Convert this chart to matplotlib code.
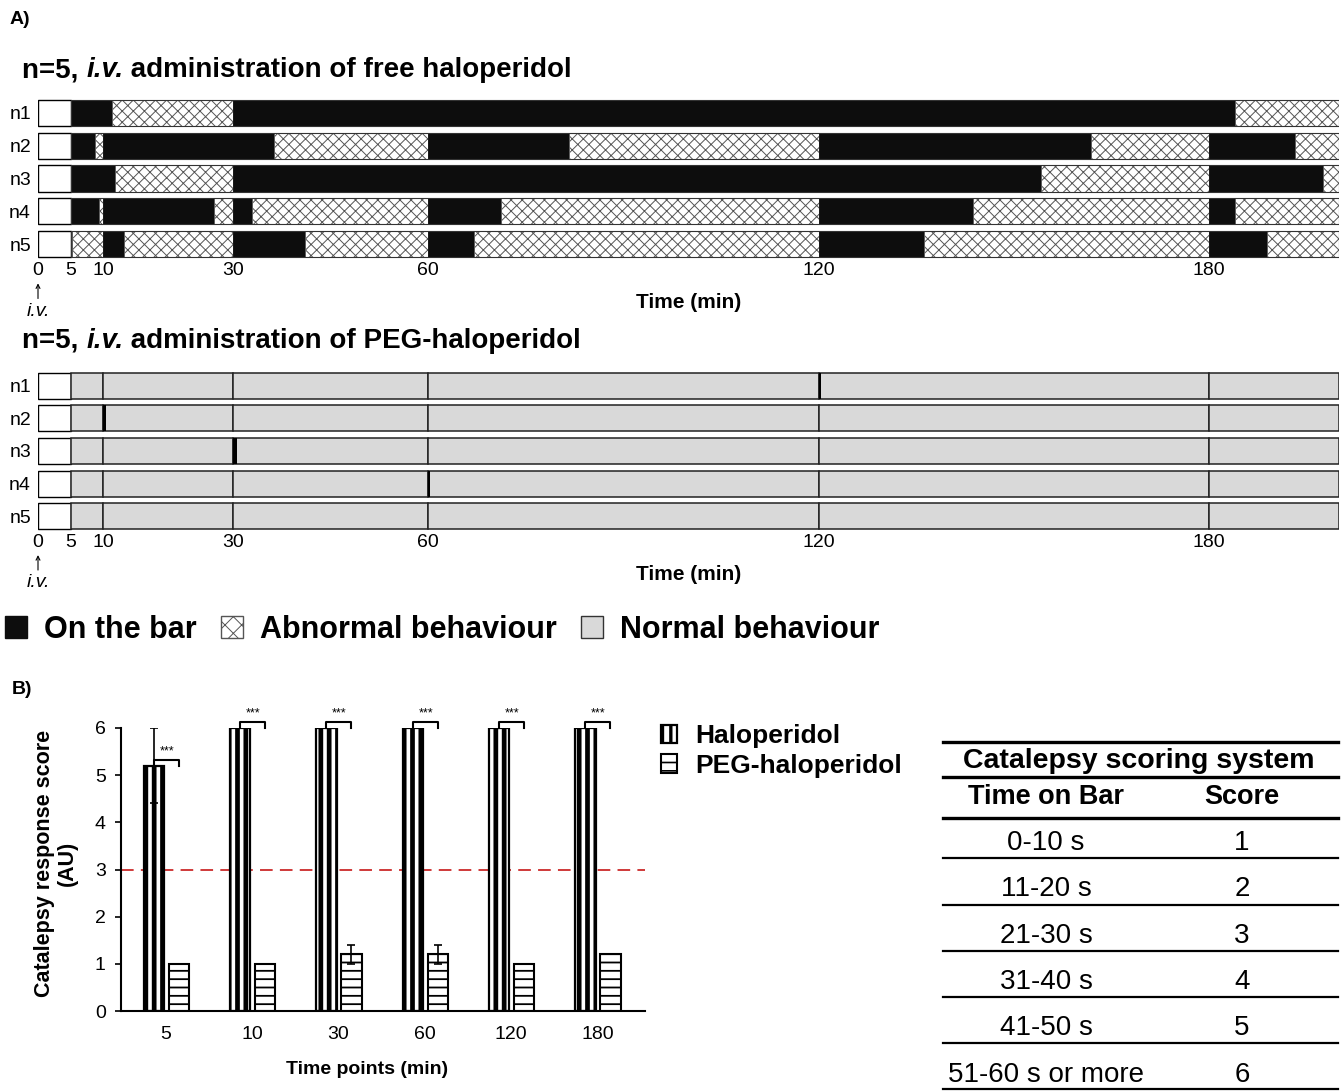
import numpy as np
import matplotlib
matplotlib.use('Agg')
import matplotlib.pyplot as plt
from matplotlib.patches import Patch
from matplotlib.lines import Line2D

plt.rcParams['font.family'] = 'Liberation Sans'

# ---------------- A) 行为时间轴 ----------------
rows = ['n1', 'n2', 'n3', 'n4', 'n5']
time_ticks = [0, 5, 10, 30, 60, 120, 180]
t_end = 200
# free haloperidol: 分段边界(min)，从5 min起交替 "on the bar" / "abnormal"
free_bounds = [
    [5, 11.4, 30, 184, 200],
    [5, 8.7, 10, 36.3, 60, 81.6, 120, 161.8, 180, 193.3, 200],
    [5, 11.9, 30, 154.2, 180, 197.5, 200],
    [5, 9.4, 10, 27, 30, 32.9, 60, 71.1, 120, 143.8, 180, 184, 200],
    [5, 5.3, 10, 13.2, 30, 41.1, 60, 67, 120, 136.2, 180, 188.9, 200],
]
# PEG-haloperidol: 观察时间点 + 短暂 on-bar
peg_checks = [5, 10, 30, 60, 120, 180, 200]
peg_onbar_t = [120, 10, 30, 60, None]
peg_onbar_len = [0.4, 0.45, 0.6, 0.3, 0]

# ---------------- B) 评分 ----------------
time_points = ['5', '10', '30', '60', '120', '180']
halo_mean = [5.2, 6, 6, 6, 6, 6]
halo_err = [0.8, 0, 0, 0, 0, 0]
peg_mean = [1, 1, 1.2, 1.2, 1, 1.2]
peg_err = [0, 0, 0.2, 0.2, 0, 0]

score_time = ['0-10 s', '11-20 s', '21-30 s', '31-40 s', '41-50 s', '51-60 s or more']
score_val = ['1', '2', '3', '4', '5', '6']

BLACK = '#0d0d0d'
GREY = '#d9d9d9'
TICK_FS = 14

W, H = 1344, 1092
fig = plt.figure(figsize=(W / 100, H / 100), dpi=100)


def fx(x):
    return x / W


def fy(y):
    return 1 - y / H


def add_axes_px(l, t, r, b):
    return fig.add_axes([l / W, 1 - b / H, (r - l) / W, (b - t) / H])


def hatch_lw(artists, lw):
    # 每个图形单独的阴影线宽（绘制时临时修改 rcParams）
    for a in artists:
        if hasattr(a, 'set_hatch_linewidth'):
            a.set_hatch_linewidth(lw)
        orig = a.draw

        def draw(renderer, _orig=orig):
            with plt.rc_context({'hatch.linewidth': lw}):
                _orig(renderer)
        a.draw = draw


def mixed_title(ax, x, y, pieces, fs):
    # 依次拼接不同样式的文字（正体/斜体）
    t = fig.text(fx(x), fy(y), pieces[0][0], fontsize=fs, fontweight='bold',
                 style=pieces[0][1], va='center')
    for txt, st in pieces[1:]:
        t = ax.annotate(txt, xy=(1, 0), xycoords=t, va='bottom', ha='left',
                        fontsize=fs, fontweight='bold', style=st,
                        annotation_clip=False)


def setup_timeline(ax):
    ax.set_xlim(0, t_end)
    ax.set_ylim(4.5, -0.5)
    for s in ax.spines.values():
        s.set_visible(False)
    ax.set_xticks(time_ticks)
    ax.set_xticklabels([str(t) for t in time_ticks])
    ax.set_yticks(range(len(rows)))
    ax.set_yticklabels(rows)
    ax.tick_params(length=0, labelsize=TICK_FS)
    ax.tick_params(axis='x', pad=1)
    ax.tick_params(axis='y', pad=5)
    ax.set_xlabel('Time (min)', fontweight='bold', fontsize=15, labelpad=10)
    ax.annotate('i.v.', xy=(0, -0.14), xycoords=('data', 'axes fraction'),
                xytext=(0, -0.31), textcoords=('data', 'axes fraction'),
                ha='center', va='center', style='italic', fontsize=TICK_FS,
                arrowprops=dict(arrowstyle='->', lw=0.8, shrinkA=1, shrinkB=0,
                                mutation_scale=7))
    # 给药前 0-5 min 空白框
    ax.barh(range(len(rows)), 5, left=0, height=0.8, color='white',
            edgecolor='black', lw=1)


# 上：free haloperidol
ax1 = add_axes_px(38, 96.6, 1339, 260.4)
setup_timeline(ax1)
for i, b in enumerate(free_bounds):
    for j in range(len(b) - 1):
        if j % 2 == 0:
            ax1.barh(i, b[j + 1] - b[j], left=b[j], height=0.8,
                     color=BLACK, edgecolor=BLACK, lw=0.5)
        else:
            bars = ax1.barh(i, b[j + 1] - b[j], left=b[j], height=0.8,
                            facecolor='white', edgecolor='#555555', hatch='xxx', lw=0.6)
            hatch_lw(bars, 0.7)
ax1.barh(range(len(rows)), t_end - 5, left=5, height=0.8, fill=False,
         edgecolor='#333333', lw=0.8)

mixed_title(ax1, 22, 70, [('n=5, ', 'normal'), ('i.v.', 'italic'),
                          (' administration of free haloperidol', 'normal')], 20)

# 下：PEG-haloperidol
ax2 = add_axes_px(38, 369.7, 1339, 532.3)
setup_timeline(ax2)
for i in range(len(rows)):
    ax2.barh(i, np.diff(peg_checks), left=peg_checks[:-1], height=0.8,
             color=GREY, edgecolor='#222222', lw=1.1)
    if peg_onbar_t[i] is not None:
        ax2.barh(i, peg_onbar_len[i], left=peg_onbar_t[i], height=0.8,
                 color='black', lw=0)

mixed_title(ax2, 22, 341, [('n=5, ', 'normal'), ('i.v.', 'italic'),
                           (' administration of PEG-haloperidol', 'normal')], 20)

# A 图例
leg_a = [Patch(facecolor=BLACK, edgecolor=BLACK),
         Patch(facecolor='white', edgecolor='#555555', hatch='xx'),
         Patch(facecolor=GREY, edgecolor='#333333')]
la = fig.legend(leg_a, ['On the bar', 'Abnormal behaviour', 'Normal behaviour'],
                loc='center left', bbox_to_anchor=(fx(2), fy(630)), ncol=3,
                frameon=False, prop={'weight': 'bold', 'size': 22},
                handlelength=0.72, handleheight=0.72, handletextpad=0.55,
                columnspacing=0.8, borderpad=0.1, borderaxespad=0)
hatch_lw(la.legend_handles[1:2], 0.7)

fig.text(fx(10), fy(20), 'A)', fontsize=14, fontweight='bold', va='center')
fig.text(fx(12), fy(690), 'B)', fontsize=14, fontweight='bold', va='center')

# ---------------- B) 柱状图 ----------------
ax3 = add_axes_px(121, 728, 645, 1011)
x = np.arange(len(time_points))
off_h, off_p, bw = -0.14, 0.15, 0.235
hb = ax3.bar(x + off_h, halo_mean, bw, yerr=halo_err, facecolor='white',
             edgecolor='black', hatch='||', lw=1.6,
             error_kw=dict(ecolor='black', elinewidth=1.2, capsize=3, capthick=1.2))
hatch_lw(hb, 3.4)
pb = ax3.bar(x + off_p, peg_mean, bw, yerr=peg_err, facecolor='white',
             edgecolor='black', hatch='--', lw=1.5,
             error_kw=dict(ecolor='black', elinewidth=1.2, capsize=3, capthick=1.2))
hatch_lw(pb, 1.3)

ax3.axhline(3, color='#cc2a2a', ls=(0, (7, 4)), lw=1.3, zorder=0.5)

# 显著性标记
for i in range(len(time_points)):
    top = halo_mean[i]
    ax3.plot([x[i] + off_h, x[i] + off_h, x[i] + off_p, x[i] + off_p],
             [top, top + 0.13, top + 0.13, top], color='black', lw=1.5,
             clip_on=False)
    ax3.text(x[i] + 0.01, top + 0.3, '***', ha='center', va='center', fontsize=9)

ax3.set_xlim(-0.52, 5.55)
ax3.set_ylim(0, 6)
ax3.set_yticks(range(7))
ax3.set_xticks(x)
ax3.set_xticklabels(time_points)
ax3.spines['top'].set_visible(False)
ax3.spines['right'].set_visible(False)
ax3.spines['left'].set_linewidth(1.5)
ax3.spines['bottom'].set_linewidth(1.5)
ax3.tick_params(axis='y', length=4, width=1.2, labelsize=TICK_FS, pad=7)
ax3.tick_params(axis='x', length=0, labelsize=TICK_FS, pad=11)
ax3.set_xlabel('Time points (min)', fontweight='bold', fontsize=14)
ax3.xaxis.set_label_coords(0.47, -0.175)
ax3.set_ylabel('Catalepsy response score\n(AU)', fontweight='bold', fontsize=15.5,
               linespacing=1.15)
ax3.yaxis.set_label_coords(-0.082, 0.52)

lb = ax3.legend([hb, pb], ['Haloperidol', 'PEG-haloperidol'], loc='upper left',
                bbox_to_anchor=(fx(661), fy(724)), bbox_transform=fig.transFigure,
                frameon=False, prop={'weight': 'bold', 'size': 19},
                handlelength=0.6, handleheight=0.7, handletextpad=0.7,
                labelspacing=0.22, borderpad=0, borderaxespad=0)
hatch_lw(lb.legend_handles[0:1], 2.4)
hatch_lw(lb.legend_handles[1:2], 1.2)

# ---------------- 评分表 ----------------
tx0, tx1 = 943, 1338
for yy, lw in [(742, 2.4), (777, 2.4), (818, 2.4), (858, 1.6), (905, 1.6),
               (951, 1.6), (997, 1.6), (1043, 1.6), (1089, 1.6)]:
    fig.add_artist(Line2D([fx(tx0), fx(tx1)], [fy(yy), fy(yy)], color='black', lw=lw))
fig.text(fx(1139), fy(761), 'Catalepsy scoring system', ha='center', va='center',
         fontsize=20.5, fontweight='bold')
fig.text(fx(1046), fy(797), 'Time on Bar', ha='center', va='center',
         fontsize=19.5, fontweight='bold')
fig.text(fx(1242), fy(797), 'Score', ha='center', va='center',
         fontsize=19.5, fontweight='bold')
row_y = [843, 889, 936, 982, 1028, 1075]
for yy, t, s in zip(row_y, score_time, score_val):
    fig.text(fx(1046), fy(yy), t, ha='center', va='center', fontsize=20)
    fig.text(fx(1242), fy(yy), s, ha='center', va='center', fontsize=20)

fig.savefig('out.png', dpi=100)
